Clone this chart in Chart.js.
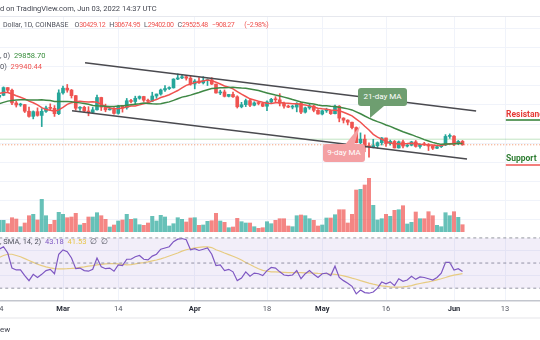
<!DOCTYPE html>
<html>
<head>
<meta charset="utf-8">
<script src="https://cdn.jsdelivr.net/npm/chart.js@4.4.1/dist/chart.umd.min.js"></script>
<style>
	body { margin:0; width:540px; height:340px; overflow:hidden; position:relative; background:#fff; font-family: Roboto, "Liberation Sans", sans-serif; }
	canvas { position:absolute; left:0; }
	#main { top:16px; }
	#rsi { top:232px; }
	.txt { position:absolute; white-space:nowrap; font-size:7.5px; line-height:9px; color:#50535e; }
	.red { color:#ef5350; }
	.grn { color:#388e3c; }
	.g { margin-left:4px; }
	.n { letter-spacing:-0.45px; }
	.box { position:absolute; border-radius:3px; color:#fff; font-size:8px; line-height:18px; text-align:center; white-space:nowrap; }
	.tail { position:absolute; }
	.line { position:absolute; left:0; width:540px; height:1px; background:#e6e8ee; }
</style>
</head>
<body>
<canvas id="main" width="540" height="216"></canvas>
<canvas id="rsi" width="540" height="86"></canvas>

<div class="line" style="top:16px"></div>
<div class="line" style="top:317px;height:2px;background:#f2f2f4"></div>

<div class="txt" style="left:0;top:4px;color:#434651">d on TradingView.com, Jun 03, 2022 14:37 UTC</div>
<div class="txt" style="left:3px;top:21px;font-size:7px">Dollar, 1D, COINBASE<span class="g" style="margin-left:6px">O</span><span class="red n">30429.12</span><span class="g">H</span><span class="red n">30674.95</span><span class="g">L</span><span class="red n">29402.00</span><span class="g">C</span><span class="red n">29525.48</span><span class="g red n">−908.27</span><span class="red n" style="margin-left:10px">(−2.98%)</span></div>
<div class="txt" style="left:0;top:51px">, 0)&nbsp;&nbsp;<span class="grn">29858.70</span></div>
<div class="txt" style="left:0;top:62px">0)&nbsp;&nbsp;<span class="red">29940.44</span></div>
<div class="txt" style="left:0;top:237px">, SMA, 14, 2)&nbsp;&nbsp;<span style="color:#7e57c2">43.18</span>&nbsp;&nbsp;<span style="color:#e8c547">41.53</span>&nbsp;&nbsp;∅&nbsp;&nbsp;∅</div>
<div class="txt" style="left:0;top:325px;font-size:8px;color:#434651">ew</div>

<div class="tail" style="left:368px;top:105px;width:18px;height:14px;background:#6e9e70;clip-path:polygon(2px 1px,16px 1px,2px 13px)"></div>
<div class="box" style="left:358px;top:88px;width:49px;height:18px;background:#6e9e70">21-day MA</div>
<div class="tail" style="left:342px;top:125px;width:20px;height:22px;background:#f4a0a3;clip-path:polygon(2px 21px,12px 21px,18px 1px)"></div>
<div class="box" style="left:323px;top:144px;width:42px;height:18px;background:#f4a0a3">9-day MA</div>

<div class="txt" style="left:506px;top:110px;font-size:8.5px;font-weight:bold;color:#e53935">Resistance</div>
<div class="txt" style="left:506px;top:154px;font-size:8.5px;font-weight:bold;color:#2e7d32">Support</div>

<script>
// day 0 = Feb 14 2022, prices in thousands USD
var opens = [42.07,42.55,44.58,43.88,40.54,40.00,40.10,38.36,37.01,38.25,
	37.26,38.33,39.22,39.12,37.71,43.19,44.43,43.92,42.46,39.15,
	39.40,38.42,38.06,38.74,41.98,39.44,38.73,38.81,37.79,39.67,
	39.28,41.12,40.92,41.77,42.23,41.26,41.00,42.36,42.89,43.96,
	44.33,44.52,46.82,47.13,47.43,47.06,45.53,46.30,45.83,46.41,
	46.60,45.50,43.17,43.44,42.28,42.78,42.16,39.53,40.08,41.15,
	39.94,40.55,40.39,39.68,40.80,41.50,41.37,40.48,39.71,39.44,
	39.45,40.43,38.12,39.24,39.74,38.60,37.63,38.47,38.52,37.72,
	39.69,36.55,36.01,35.47,34.06,30.08,31.01,29.10,29.03,29.28,
	30.08,31.32,29.85,30.42,28.70,30.31,29.20,29.43,30.29,29.10,
	29.65,29.54,29.20,28.62,29.03,29.47,31.73,31.80,29.80,30.43];
var highs = [42.76,44.77,44.58,44.18,40.95,40.47,40.15,39.48,38.45,39.25,
	39.05,39.70,40.30,39.85,44.00,44.95,45.40,44.10,42.51,39.60,
	39.68,39.55,39.36,42.59,42.05,40.23,39.36,39.30,39.94,39.87,
	41.72,41.47,42.32,42.40,42.30,41.55,43.36,42.89,44.20,45.10,
	44.80,46.92,48.19,48.10,47.70,47.60,46.70,47.20,47.45,46.89,
	47.20,45.50,43.90,43.96,42.80,43.43,42.43,40.70,41.56,41.50,
	40.86,40.71,40.60,41.10,41.76,42.20,42.98,40.80,39.98,39.92,
	40.62,40.80,39.45,40.35,39.93,38.80,38.66,39.16,38.63,39.98,
	39.84,36.65,36.13,35.51,34.24,32.66,32.14,30.04,30.98,30.30,
	31.45,31.32,30.77,30.67,30.53,30.77,29.61,30.45,30.65,29.80,
	30.18,29.85,29.37,29.23,29.58,32.20,32.40,31.98,30.67,30.67];
var lows = [41.57,42.43,43.33,40.11,39.46,39.65,38.02,36.81,36.35,37.05,
	34.32,38.03,38.58,37.00,37.45,42.83,43.36,41.83,38.62,38.60,
	38.09,37.16,37.86,38.66,38.55,38.22,38.66,37.58,37.58,38.12,
	38.90,40.52,40.15,41.51,40.92,40.50,40.89,41.75,42.59,43.60,
	44.07,44.43,46.66,46.94,46.55,45.20,44.25,45.70,45.52,45.13,
	45.40,43.13,42.72,42.11,42.12,42.00,39.20,39.25,39.58,39.55,
	39.77,40.02,39.55,38.54,40.56,40.82,39.75,39.18,39.30,38.98,
	38.20,37.70,37.88,38.88,38.20,37.58,37.39,38.05,37.51,37.68,
	35.57,35.26,34.76,33.71,30.03,29.73,27.70,26.30,28.71,28.60,
	29.48,29.10,29.45,28.68,28.66,28.73,28.95,29.25,28.90,28.65,
	29.33,28.02,28.27,28.48,28.81,29.30,31.22,29.33,29.58,29.40];
var closes = [42.55,44.58,43.88,40.54,40.00,40.10,38.36,37.01,38.25,37.26,
	38.33,39.22,39.12,37.71,43.19,44.43,43.92,42.46,39.15,39.40,
	38.42,38.06,38.74,41.98,39.44,38.73,38.81,37.79,39.67,39.28,
	41.12,40.92,41.77,42.23,41.26,41.00,42.36,42.89,43.96,44.33,
	44.52,46.82,47.13,47.43,47.06,45.53,46.30,45.83,46.41,46.60,
	45.50,43.17,43.44,42.28,42.78,42.16,39.53,40.08,41.15,39.94,
	40.55,40.39,39.68,40.80,41.50,41.37,40.48,39.71,39.44,39.45,
	40.43,38.12,39.24,39.74,38.60,37.63,38.47,38.52,37.72,39.69,
	36.55,36.01,35.47,34.06,30.08,31.01,28.94,29.03,29.28,30.08,
	31.32,29.85,30.42,28.70,30.31,29.20,29.43,30.29,29.10,29.65,
	29.54,29.20,28.62,29.03,29.47,31.73,31.80,29.80,30.43,29.53];
// volume, thousands BTC
var volumes = [11.7,11.7,8.3,14.3,13,5.3,9,16.3,17.7,12,
	32.7,16.3,7.7,11.7,19.7,17.7,14.3,15,18.7,7,
	8.7,15,15,19.3,16.3,12.7,5,7,11,12,
	17.7,12.7,13.3,7.3,6.7,9,15.7,11,16.7,15,
	6,8.3,14.3,12.7,10,14,14.3,6.7,7,10.7,
	11.3,18.7,11,9.7,4.3,5,13.7,10.3,9,9,
	5.3,3.7,4.3,10.3,8.3,11.7,13.3,13.3,6,5.3,
	16.3,17,16.3,13.3,11.7,6,7,14,14,17.3,
	22.3,22.3,9,17.7,42,42.7,47,53.7,26.7,12,
	13.3,17.7,15.7,21.7,22.3,26.3,8,9.7,20,13.3,
	13.3,20.3,16.3,6.7,5.3,19.3,16.3,20.3,14.7,7.3];
var ma9 = [43.07,43.31,43.31,42.91,42.42,42.04,41.60,41.02,40.60,40.01,
	39.31,38.79,38.63,38.38,38.72,39.39,40.16,40.62,40.83,40.96,
	40.87,40.76,40.87,40.73,40.18,39.60,39.19,39.03,39.07,39.17,
	39.50,39.74,39.72,40.03,40.32,40.57,41.08,41.43,41.96,42.31,
	42.71,43.27,43.81,44.49,45.17,45.51,45.89,46.09,46.32,46.56,
	46.41,45.98,45.53,45.00,44.70,44.24,43.54,42.84,42.24,41.62,
	41.33,41.00,40.71,40.49,40.41,40.62,40.67,40.50,40.44,40.32,
	40.32,40.14,39.97,39.77,39.46,39.13,39.00,38.90,38.70,38.62,
	38.46,38.10,37.63,37.13,36.30,35.47,34.40,33.43,32.28,31.56,
	31.03,30.41,30.00,29.84,29.77,29.80,29.84,29.96,29.84,29.67,
	29.62,29.49,29.48,29.33,29.37,29.62,29.79,29.87,29.94,29.94];
var ma21 = [40.32,40.69,41.02,41.18,41.29,41.38,41.40,41.33,41.31,41.33,
	41.38,41.27,41.16,40.93,40.90,40.91,40.89,40.84,40.69,40.56,
	40.38,40.17,39.89,39.80,39.74,39.68,39.62,39.59,39.72,39.77,
	39.95,40.07,40.20,40.34,40.51,40.41,40.31,40.27,40.34,40.58,
	40.82,41.22,41.65,42.07,42.31,42.60,42.96,43.30,43.70,44.03,
	44.33,44.43,44.55,44.57,44.60,44.64,44.57,44.46,44.38,44.19,
	44.01,43.81,43.48,43.18,42.90,42.62,42.39,42.07,41.77,41.44,
	41.14,40.79,40.60,40.42,40.25,40.00,39.82,39.78,39.66,39.59,
	39.43,39.21,38.98,38.71,38.20,37.70,37.11,36.56,36.07,35.62,
	35.23,34.73,34.37,33.87,33.42,32.97,32.58,32.19,31.74,31.36,
	30.88,30.52,30.17,29.86,29.64,29.72,29.76,29.80,29.87,29.86];
var rsi = [61,63,58,46,44.5,44.5,40,36,41,38.5,
	41,44,45,41.5,57,60.5,59,54,45.5,46,
	44,43.5,45,54,47,45.5,46,43.5,48.5,48,
	53,53,55,56,53,52.5,55.5,57,61,62,
	63,67,69,69.5,68.5,60.5,61.5,60,61,62,
	57,48,48.5,44,45,43,36,38,43,39.5,
	42,41.5,40,44,46.5,46,43,40.5,40,40.5,
	44,37.5,41.5,44,41,38.5,41.5,42,40,47.5,
	38.5,36,34,31.5,25.5,28.5,26.5,26,27,30,
	35,33.5,35,32,37.5,35.5,36.5,39.5,37,39,
	38.5,37.5,36.5,38.5,42,50.5,50.5,44.5,45.5,43.18];
var rsiSma = [54.5,56,57,57,56,55,53.5,52,50.5,49,
	48,47,46.2,45.6,45.4,45.4,45.5,45.7,46,46.5,
	47,47.6,48,48.5,49,49.3,49.5,49.6,49.3,48.9,
	48.6,48.8,49.3,50,50.4,51,51.7,52.4,53.3,54.4,
	55.6,56.8,58,59.5,60.6,61.4,62,62.4,62.8,62.9,
	62.3,60.6,59.4,58,56.7,55.4,54,52.4,50.5,48.8,
	47,45.5,44.2,43.5,43,42.9,42.8,42.6,42.4,42.3,
	42.3,42.3,42.2,42.1,42,41.8,41.7,41.5,41.3,41,
	40.5,39.8,39,38,37.1,36,35,34,33.2,32.5,
	31.9,31.5,31.1,30.8,30.9,31.1,31.5,32.1,33,33.7,
	34.4,35,35.7,36.6,37.5,38.5,39.6,40.4,41,41.53];

// channel / level lines: [day, price]
var upperLine = [[20.18, 51.13], [112.2, 38.42]];
var lowerLine = [[17.12, 38.50], [110.06, 25.79]];
var resistanceLvl = 36.05, supportLvl = 24.21, greenLvl = 31.0, lastClose = 29.53;

var tickDays = [0, 15, 28, 46, 63, 76, 91, 107, 119];
var tickLabels = ['14', 'Mar', '14', 'Apr', '18', 'May', '16', 'Jun', '13'];
var monthTicks = [15, 46, 76, 107];

var X_MIN = 0.1765, X_MAX = 127.235;
var UP = '#26a69a', DOWN = '#ef5350';
var GRID = '#f0f3fa';

function pts(arr) { return arr.map(function (v, i) { return {x: i, y: v}; }); }
function seg(p) { return p.map(function (q) { return {x: q[0], y: q[1]}; }); }
function hl(v, a, b) { return [{x: a, y: v}, {x: b, y: v}]; }
var isUp = closes.map(function (c, i) { return c >= opens[i]; });
function noPad(scale) { scale.paddingLeft = 0; scale.paddingRight = 0; }
function isMonth(c) { return !!(c && c.tick && monthTicks.indexOf(c.tick.value) >= 0); }

new Chart(document.getElementById('main'), {
	type: 'bar',
	data: {
		datasets: [
			{
				label: 'volume', yAxisID: 'yv', order: 10, grouped: false, barThickness: 3.4,
				data: pts(volumes),
				backgroundColor: isUp.map(function (u) { return u ? 'rgba(38,166,154,0.7)' : 'rgba(239,83,80,0.7)'; })
			},
			{
				label: 'wick', order: 5, grouped: false, barThickness: 1,
				data: lows.map(function (l, i) { return {x: i, y: [l, highs[i]]}; }),
				backgroundColor: isUp.map(function (u) { return u ? UP : DOWN; })
			},
			{
				label: 'body', order: 4, grouped: false, barThickness: 3, minBarLength: 1,
				data: opens.map(function (o, i) { return {x: i, y: [o, closes[i]]}; }),
				backgroundColor: isUp.map(function (u) { return u ? UP : DOWN; })
			},
			{type: 'line', label: 'lvl', order: 6, data: hl(greenLvl, 0, 130), borderColor: 'rgba(76,175,80,0.35)', borderWidth: 1, pointRadius: 0},
			{type: 'line', label: 'last', order: 6, data: hl(lastClose, 0, 130), borderColor: '#f08a5d', borderWidth: 1, borderDash: [1, 2], pointRadius: 0},
			{type: 'line', label: 'MA21', order: 2, data: pts(ma21), borderColor: '#3f8845', borderWidth: 1.5, pointRadius: 0},
			{type: 'line', label: 'MA9', order: 2, data: pts(ma9), borderColor: '#f0524f', borderWidth: 1.5, pointRadius: 0},
			{type: 'line', label: 'upper', order: 1, data: seg(upperLine), borderColor: '#4a4a4f', borderWidth: 1.5, pointRadius: 0},
			{type: 'line', label: 'lower', order: 1, data: seg(lowerLine), borderColor: '#4a4a4f', borderWidth: 1.5, pointRadius: 0},
			{type: 'line', label: 'res', order: 1, data: hl(resistanceLvl, 119.2, 130), borderColor: '#2e7d32', borderWidth: 1.5, pointRadius: 0},
			{type: 'line', label: 'sup', order: 1, data: hl(supportLvl, 119.2, 130), borderColor: '#ef5350', borderWidth: 1.5, pointRadius: 0}
		]
	},
	options: {
		responsive: false, animation: false, devicePixelRatio: 1,
		layout: {padding: 0},
		plugins: {legend: {display: false}, tooltip: {enabled: false}},
		scales: {
			x: {
				type: 'linear', min: X_MIN, max: X_MAX, offset: false,
				afterBuildTicks: function (s) { s.ticks = tickDays.map(function (v) { return {value: v}; }); },
				afterFit: noPad,
				grid: {color: GRID, drawTicks: false, offset: false},
				border: {display: false},
				ticks: {display: false}
			},
			y: {
				type: 'linear', min: 6.58, max: 63.42,
				afterBuildTicks: function (s) {
					var t = [];
					for (var v = 10; v <= 60; v += 5) t.push({value: v});
					t.push({value: 6.58});
					s.ticks = t;
				},
				grid: {color: GRID, drawTicks: false},
				border: {display: false},
				ticks: {display: false}
			},
			yv: {type: 'linear', min: 0, max: 216, display: false}
		}
	}
});

new Chart(document.getElementById('rsi'), {
	type: 'line',
	data: {
		datasets: [
			{label: 'u', data: hl(70, 0, 130), borderColor: '#9598a1', borderWidth: 1, borderDash: [3, 3], pointRadius: 0, fill: 2, backgroundColor: 'rgba(126,87,194,0.1)'},
			{label: 'm', data: hl(50, 0, 130), borderColor: '#9598a1', borderWidth: 1, borderDash: [3, 3], pointRadius: 0},
			{label: 'l', data: hl(30, 0, 130), borderColor: '#9598a1', borderWidth: 1, borderDash: [3, 3], pointRadius: 0},
			{label: 'RSI', data: pts(rsi), borderColor: '#7e57c2', borderWidth: 1.2, pointRadius: 0},
			{label: 'SMA', data: pts(rsiSma), borderColor: '#f3d97a', borderWidth: 1.2, pointRadius: 0}
		]
	},
	options: {
		responsive: false, animation: false, devicePixelRatio: 1,
		layout: {padding: 0},
		plugins: {legend: {display: false}, tooltip: {enabled: false}, filler: {propagate: false}},
		scales: {
			x: {
				type: 'linear', min: X_MIN, max: X_MAX, offset: false,
				afterBuildTicks: function (s) { s.ticks = tickDays.map(function (v) { return {value: v}; }); },
				afterFit: noPad,
				grid: {color: GRID, drawTicks: false},
				border: {display: true, color: '#c3c6ce', width: 1.5},
				ticks: {
					autoSkip: false, maxRotation: 0, padding: 4,
					callback: function (v) { return tickLabels[tickDays.indexOf(v)]; },
					color: function (c) { return isMonth(c) ? '#2a2e39' : '#50535e'; },
					font: function (c) {
						return {family: 'Roboto', size: 7.5, weight: isMonth(c) ? 'bold' : 'normal'};
					}
				}
			},
			y: {
				type: 'linear', min: 19.8, max: 74.7,
				afterBuildTicks: function (s) { s.ticks = [{value: 40}, {value: 60}]; },
				grid: {color: GRID, drawTicks: false},
				border: {display: false},
				ticks: {display: false}
			}
		}
	}
});
</script>
</body>
</html>
